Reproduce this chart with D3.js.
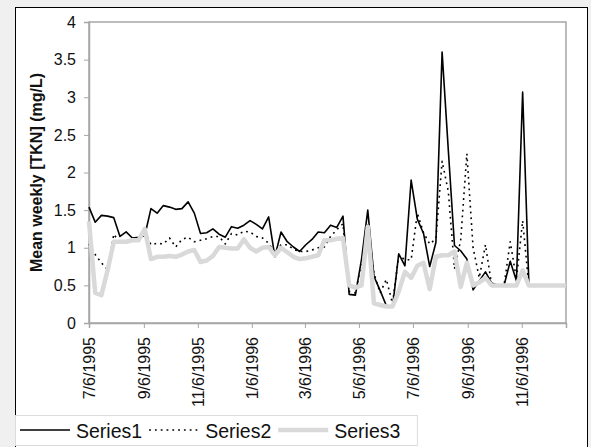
<!DOCTYPE html>
<html>
<head>
<meta charset="utf-8">
<script src="https://cdn.jsdelivr.net/npm/d3@7"></script>
<style>
  html, body { margin: 0; padding: 0; background: #f0f0f0; }
  svg { display: block; }
  text { font-family: "Liberation Sans", Arial, sans-serif; }
</style>
</head>
<body>
<svg id="chart" width="591" height="447"></svg>
<script>
// ---------- DATA ----------
const dates = [
  "7/6/1995","7/13/1995","7/20/1995","7/27/1995","8/3/1995","8/10/1995","8/17/1995","8/24/1995","8/31/1995",
  "9/7/1995","9/14/1995","9/21/1995","9/28/1995","10/5/1995","10/12/1995","10/19/1995","10/26/1995",
  "11/2/1995","11/9/1995","11/16/1995","11/23/1995","11/30/1995","12/7/1995","12/14/1995","12/21/1995","12/28/1995",
  "1/4/1996","1/11/1996","1/18/1996","1/25/1996","2/1/1996","2/8/1996","2/15/1996","2/22/1996","2/29/1996",
  "3/7/1996","3/14/1996","3/21/1996","3/28/1996","4/4/1996","4/11/1996","4/18/1996","4/25/1996",
  "5/2/1996","5/9/1996","5/16/1996","5/23/1996","5/30/1996","6/6/1996","6/13/1996","6/20/1996","6/27/1996",
  "7/4/1996","7/11/1996","7/18/1996","7/25/1996","8/1/1996","8/8/1996","8/15/1996","8/22/1996","8/29/1996",
  "9/5/1996","9/12/1996","9/19/1996","9/26/1996","10/3/1996","10/10/1996","10/17/1996","10/24/1996","10/31/1996",
  "11/7/1996","11/14/1996","11/21/1996","11/28/1996","12/5/1996","12/12/1996","12/19/1996","12/26/1996"
];

const series1 = [
  1.54,1.34,1.43,1.42,1.40,1.15,1.21,1.13,1.14,1.16,
  1.52,1.46,1.56,1.54,1.51,1.52,1.61,1.46,1.19,1.20,
  1.25,1.18,1.14,1.28,1.26,1.30,1.36,1.31,1.25,1.41,
  0.88,1.21,1.08,1.01,0.95,1.04,1.11,1.21,1.20,1.30,
  1.27,1.42,0.38,0.37,0.85,1.50,0.62,0.43,0.23,0.21,
  0.92,0.76,1.90,1.38,1.19,0.75,1.07,3.60,2.30,1.03,
  0.96,0.85,0.44,0.56,0.68,0.53,0.50,0.50,0.82,0.56,
  3.07,0.53
];

const series2 = [
  1.05,0.91,0.80,0.71,1.18,1.06,1.08,1.10,1.09,1.22,
  1.04,1.06,1.05,1.13,1.01,1.11,1.14,1.08,1.10,1.12,
  1.15,1.15,1.05,1.19,1.17,1.22,1.21,1.15,1.13,1.06,
  0.93,1.04,1.04,0.98,0.95,0.95,0.97,1.00,1.01,1.15,
  1.24,1.32,0.42,0.40,0.80,1.30,0.66,0.40,0.58,0.26,
  0.90,0.84,0.84,1.46,1.20,1.05,1.12,2.15,1.75,0.72,
  1.10,2.25,1.00,0.60,1.04,0.50,0.50,0.50,1.08,0.58,
  1.36,0.50
];

const series3 = [
  1.35,0.40,0.37,0.70,1.08,1.08,1.08,1.10,1.10,1.25,
  0.85,0.88,0.88,0.89,0.88,0.91,0.95,0.97,0.81,0.83,
  0.89,1.01,1.00,0.99,0.99,1.11,1.00,0.95,1.00,1.01,
  0.90,1.00,0.94,0.88,0.85,0.86,0.88,0.90,1.10,1.10,
  1.12,1.13,0.50,0.47,0.50,1.28,0.26,0.24,0.22,0.22,
  0.42,0.68,0.60,0.76,0.80,0.45,0.88,0.90,0.90,0.95,
  0.48,0.80,0.50,0.54,0.60,0.50,0.50,0.50,0.50,0.50,
  0.70,0.50,0.50,0.50,0.50,0.50,0.50,0.50
];

const seriesNames = ["Series1", "Series2", "Series3"];
const xTickLabels = ["7/6/1995","9/6/1995","11/6/1995","1/6/1996","3/6/1996","5/6/1996","7/6/1996","9/6/1996","11/6/1996"];
const yTickLabels = ["0","0.5","1","1.5","2","2.5","3","3.5","4"];
const yTitle = "Mean weekly [TKN] (mg/L)";
const xDomainLabels = ["7/6/1995", "12/26/1996"];

// ---------- SETUP ----------
const parse = d3.utcParse("%m/%d/%Y");
const svg = d3.select("#chart");
const W = 591, H = 447;
const plot = { left: 89, top: 22, right: 566, bottom: 323 };

svg.append("rect").attr("x", 0).attr("y", 0).attr("width", W).attr("height", H).attr("fill", "#f0f0f0");
svg.append("rect").attr("x", 15.5).attr("y", 7.5).attr("width", 572).attr("height", 450)
  .attr("fill", "#ffffff").attr("stroke", "#000").attr("stroke-width", 1);

const x = d3.scaleUtc()
  .domain(xDomainLabels.map(parse))
  .range([plot.left, plot.right]);
const yVals = yTickLabels.map(Number);
const y = d3.scaleLinear()
  .domain([0, d3.max(yVals)])
  .range([plot.bottom, plot.top]);

// plot area border
svg.append("rect")
  .attr("x", plot.left).attr("y", plot.top)
  .attr("width", plot.right - plot.left).attr("height", plot.bottom - plot.top)
  .attr("fill", "none").attr("stroke", "#a6a6a6").attr("stroke-width", 1.5);

// Y axis
const yAxis = svg.append("g")
  .attr("transform", `translate(${plot.left},0)`)
  .call(d3.axisLeft(y).tickValues(yVals).tickSize(5).tickPadding(8)
    .tickFormat((d, i) => yTickLabels[i]));
yAxis.select(".domain").attr("stroke", "#a6a6a6").attr("stroke-width", 1.5);
yAxis.selectAll(".tick line").attr("stroke", "#a6a6a6");
yAxis.selectAll(".tick text").attr("font-size", 16).attr("fill", "#111")
  .attr("font-family", '"Liberation Sans", Arial, sans-serif');

// X axis
const xTickDates = xTickLabels.map(parse);
const xAxis = svg.append("g")
  .attr("transform", `translate(0,${plot.bottom})`)
  .call(d3.axisBottom(x).tickValues(xTickDates).tickSize(5)
    .tickFormat((d, i) => xTickLabels[i]));
xAxis.select(".domain").attr("stroke", "#a6a6a6").attr("stroke-width", 1.5);
xAxis.selectAll(".tick line").attr("stroke", "#a6a6a6");
xAxis.selectAll(".tick text")
  .attr("font-size", 16).attr("fill", "#111")
  .attr("font-family", '"Liberation Sans", Arial, sans-serif')
  .attr("transform", "rotate(-90)")
  .attr("text-anchor", "end")
  .attr("x", -14).attr("y", 0).attr("dy", "0.36em");

// Y title
svg.append("text")
  .attr("transform", `translate(36,${(plot.top + plot.bottom) / 2}) rotate(-90)`)
  .attr("text-anchor", "middle").attr("dy", "0.36em")
  .attr("font-size", 16).attr("font-weight", "bold").attr("fill", "#111")
  .text(yTitle);

// ---------- SERIES ----------
const xDates = dates.map(parse);
const line = d3.line().x(d => x(d[0])).y(d => y(d[1]));
const styles = [
  { stroke: "#000", width: 1.6, dash: null },
  { stroke: "#000", width: 1.6, dash: "1.8,4" },
  { stroke: "#d9d9d9", width: 4.5, dash: null }
];
[series1, series2, series3].forEach((vals, si) => {
  const pts = vals.map((v, i) => [xDates[i], v]);
  const st = styles[si];
  svg.append("path")
    .datum(pts)
    .attr("d", line)
    .attr("fill", "none")
    .attr("stroke", st.stroke)
    .attr("stroke-width", st.width)
    .attr("stroke-linejoin", "round")
    .attr("stroke-dasharray", st.dash);
});

// ---------- LEGEND ----------
const legend = svg.append("g");
const legBox = legend.append("rect")
  .attr("x", 15.5).attr("y", 415.5).attr("height", 30)
  .attr("fill", "#fff").attr("stroke", "#dcdcdc").attr("stroke-width", 1);
let lx = 20;
const ly = 430;
seriesNames.forEach((name, i) => {
  const st = styles[i];
  legend.append("line")
    .attr("x1", lx).attr("x2", lx + 50).attr("y1", ly).attr("y2", ly)
    .attr("stroke", st.stroke).attr("stroke-width", st.width)
    .attr("stroke-dasharray", st.dash);
  const t = legend.append("text")
    .attr("x", lx + 56).attr("y", 438)
    .attr("font-size", 19.5).attr("fill", "#111")
    .text(name);
  const w = t.node().getComputedTextLength();
  lx = lx + 56 + w + 7;
});
legBox.attr("width", lx + 10 - 15.5);
</script>
</body>
</html>
